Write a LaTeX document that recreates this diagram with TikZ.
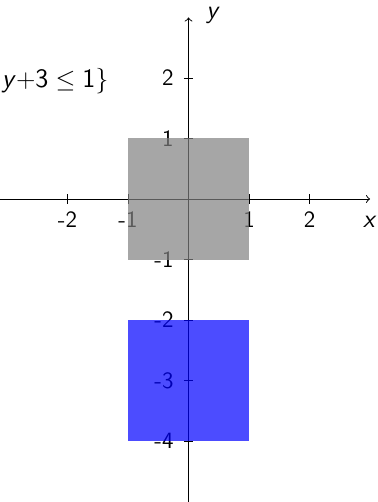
\documentclass[tikz,border=0pt]{standalone}
\usepackage{amsmath}
\begin{document}
\begin{tikzpicture}[x=1cm,y=1cm,
  every node/.style={font=\sffamily\fontsize{11}{13}\selectfont},
  axisline/.style={->, line width=0.45pt},
  tickmark/.style={line width=0.4pt},
  ticklab/.style={inner sep=0pt},
  axislab/.style={inner sep=0pt, anchor=base, font=\sffamily\itshape\fontsize{12}{14}\selectfont},
  region/.style={opacity=0.7}]
\useasboundingbox (-3.116,-5.008) rectangle (3.116,3.289);
% axes
\coordinate (xs) at (-3.4,0);
\coordinate (xe) at (3,0);
\coordinate (ys) at (0,-5.1);
\coordinate (ye) at (0,3);
\draw[axisline] (xs) -- (xe);
\draw[axisline] (ys) -- (ye);
\node[axislab] (xl) at (2.98,-0.47) {x};
\node[axislab] (yl) at (0.39,2.99) {y};
% x ticks
\foreach \v/\t in {-2/-2,-1/-1,1/1,2/2}{
  \draw[tickmark] (\v,0.075) -- (\v,-0.075);
  \node[ticklab, anchor=base] (xt\v) at (\v,-0.463) {\t};
}
% y ticks
\foreach \v/\t in {2/2,1/1,-1/-1,-2/-2,-3/-3,-4/-4}{
  \draw[tickmark] (-0.075,\v) -- (0.075,\v);
  \node[ticklab, anchor=base east] (yt\v) at (-0.24,\v-0.13) {\t};
}
% regions
\fill[gray, region] (-1,-1) rectangle (1,1);
\fill[blue, region] (-1,-4) rectangle (1,-2);
% set description (visible part)
\node[inner sep=0pt, anchor=base west, font=\sffamily\fontsize{12.5}{14}\selectfont] (setdesc) at (-3.09,1.843)
  {$\textsf{\textit{y}}{+}\textsf{3} \leq \textsf{1}\}$};
\end{tikzpicture}
\end{document}
